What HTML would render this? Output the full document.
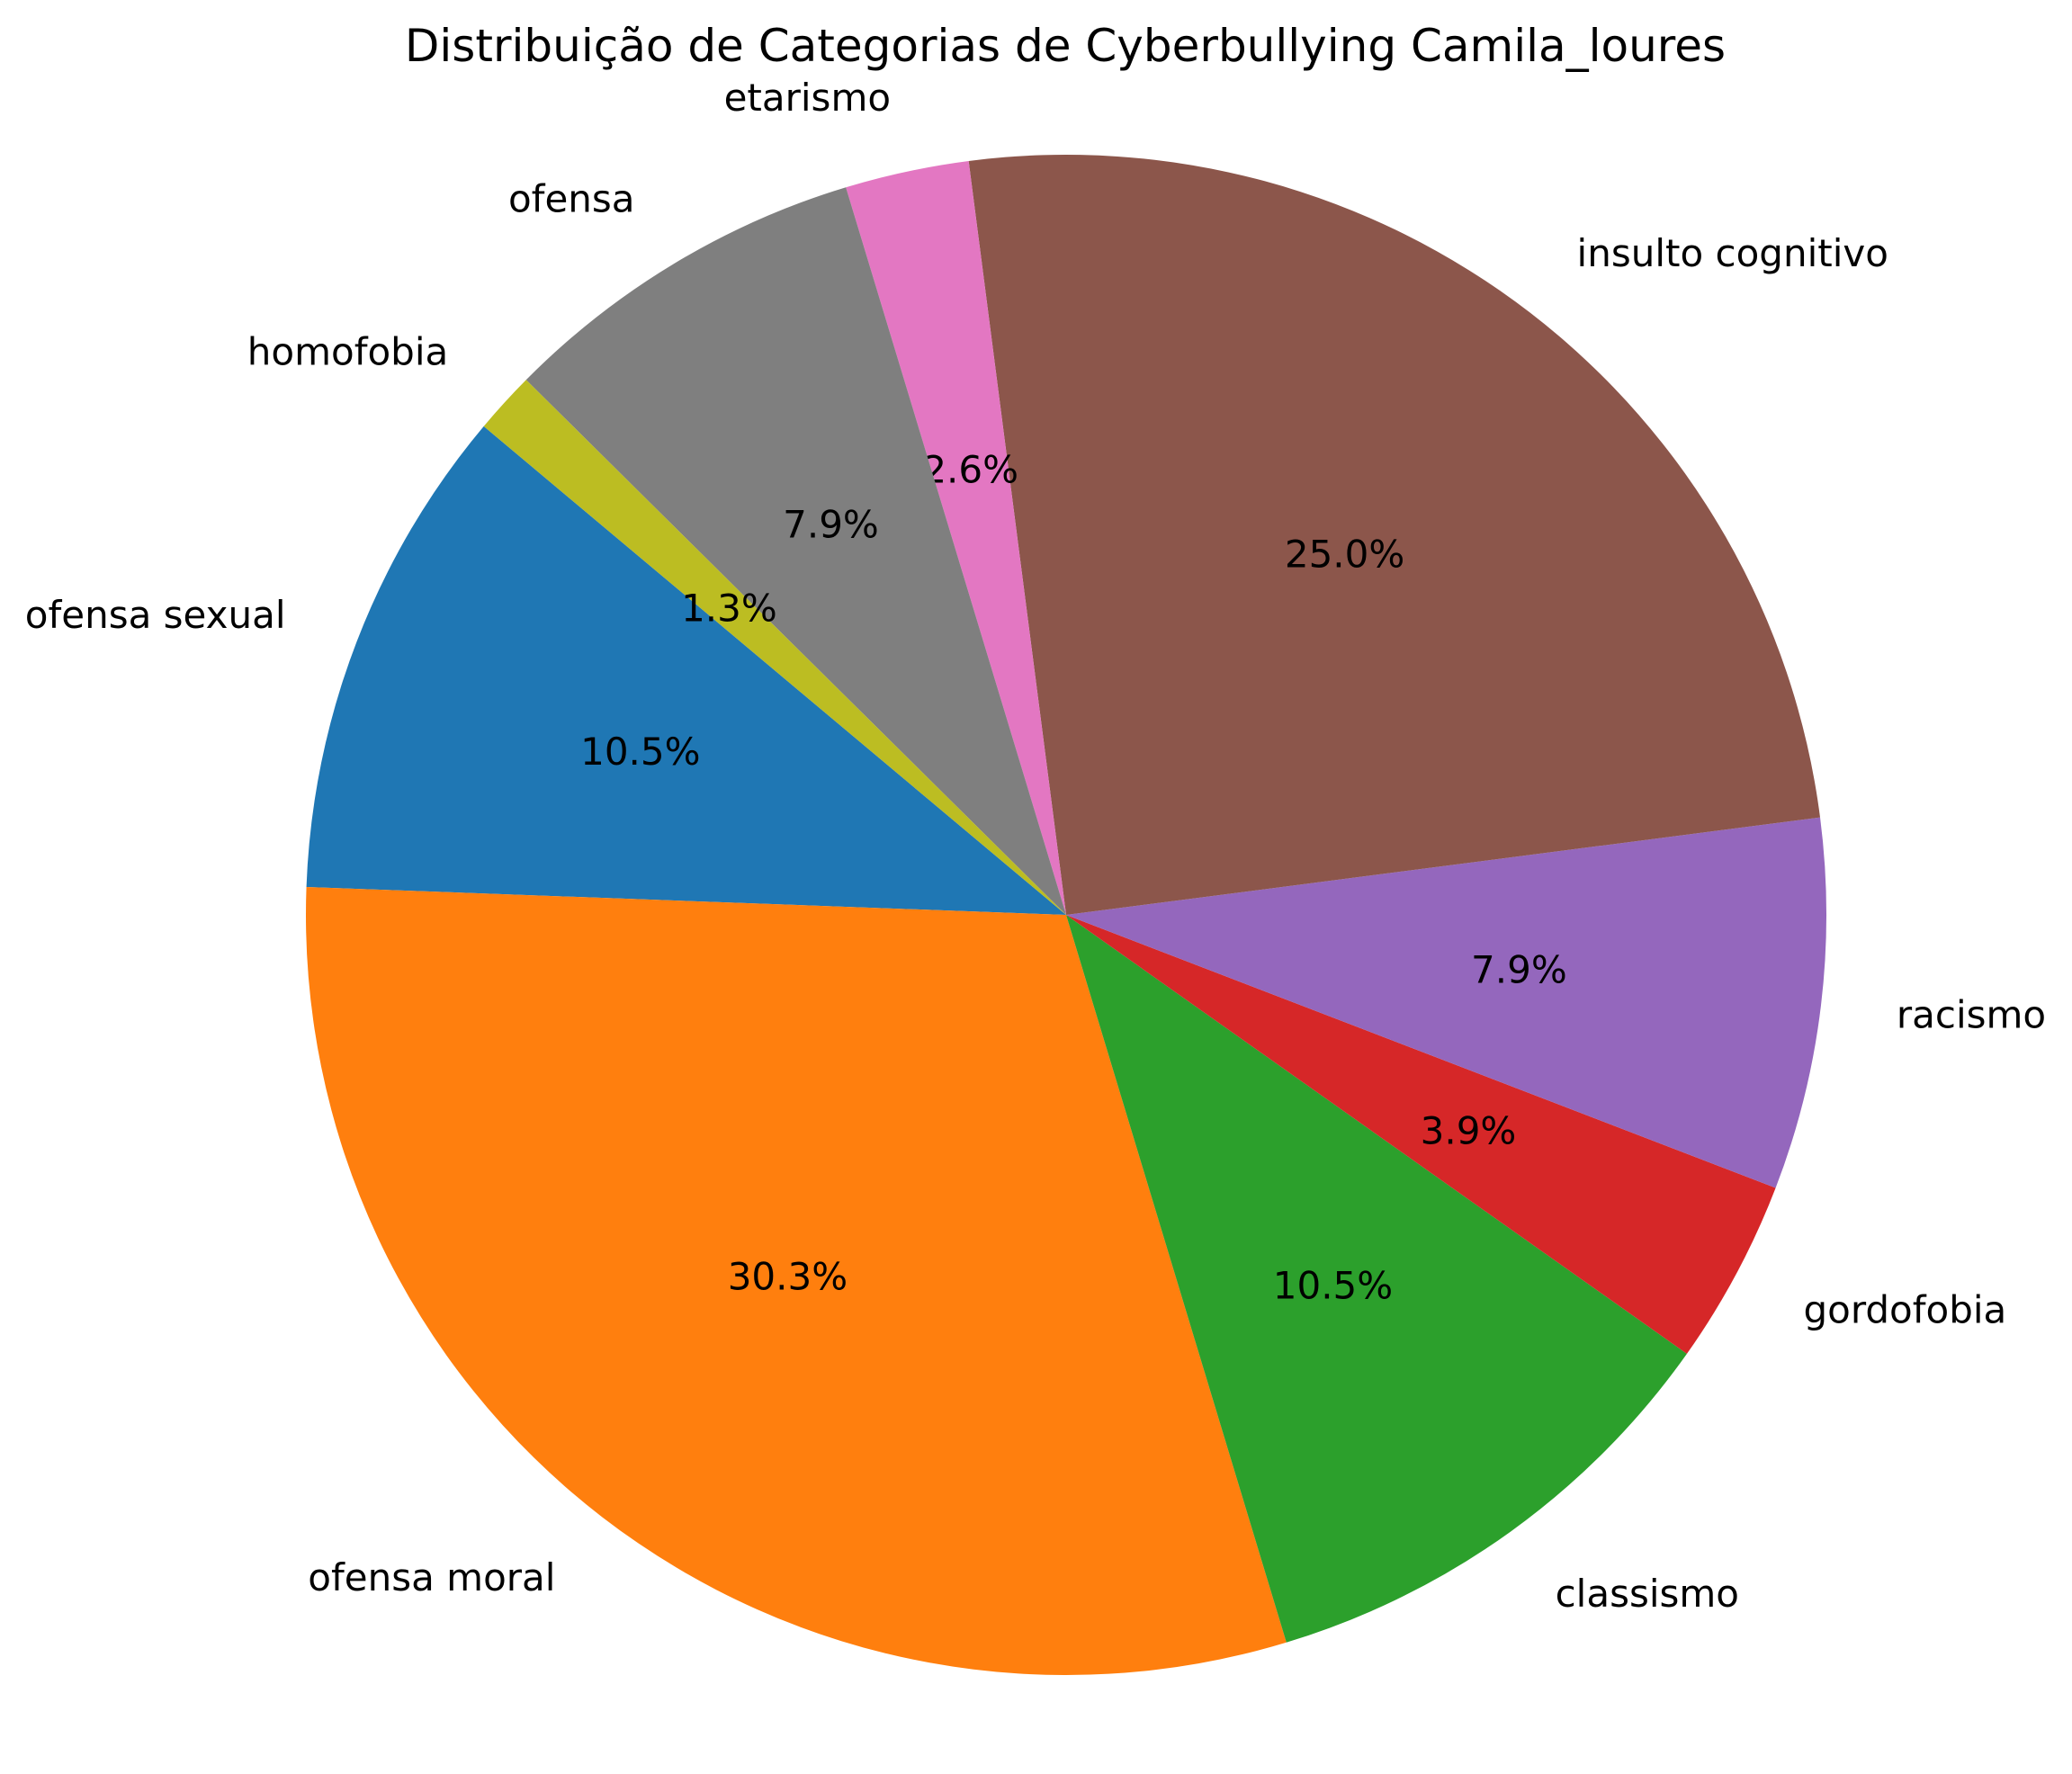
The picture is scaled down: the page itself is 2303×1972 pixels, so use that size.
<!DOCTYPE html>
<html><head><meta charset="utf-8"><style>
html,body{margin:0;padding:0;background:#fff;}
svg{display:block;font-family:"DejaVu Sans","Liberation Sans",sans-serif;}
</style></head><body>
<svg id="chart" width="2303" height="1972" viewBox="0 0 2303 1972" xmlns="http://www.w3.org/2000/svg">
<rect width="2303" height="1972" fill="#fff"/>
<text x="1184" y="68" font-size="50" text-anchor="middle" fill="#000">Distribuição de Categorias de Cyberbullying Camila_loures</text>
<g id="slices"></g>
</svg>
<script>
const categories = ["ofensa sexual","ofensa moral","classismo","gordofobia","racismo","insulto cognitivo","etarismo","ofensa","homofobia"];
const counts = [8,23,8,3,6,19,2,6,1];
const colors = ["#1f77b4","#ff7f0e","#2ca02c","#d62728","#9467bd","#8c564b","#e377c2","#7f7f7f","#bcbd22"];
const cx=1185, cy=1017, R=845, startAngle=140;
const g=document.getElementById('slices');
const NS="http://www.w3.org/2000/svg";
const total=counts.reduce((a,b)=>a+b,0);
let a0=startAngle;
function pt(a,r){const t=a*Math.PI/180;return [cx+r*Math.cos(t), cy-r*Math.sin(t)];}
counts.forEach((v,i)=>{
  const span=v/total*360, a1=a0+span;
  const p0=pt(a0,R), p1=pt(a1,R);
  const path=document.createElementNS(NS,'path');
  path.setAttribute('d',`M${cx},${cy} L${p0[0]},${p0[1]} A${R},${R} 0 ${span>180?1:0} 0 ${p1[0]},${p1[1]} Z`);
  path.setAttribute('fill',colors[i]);
  
  
  g.appendChild(path);
  const mid=(a0+a1)/2;
  const lp=pt(mid,R*1.1);
  const lab=document.createElementNS(NS,'text');
  lab.setAttribute('x',lp[0]);lab.setAttribute('y',lp[1]+15);
  lab.setAttribute('font-size','42');
  lab.setAttribute('text-anchor',Math.cos(mid*Math.PI/180)>=0?'start':'end');
  lab.textContent=categories[i];
  
  
  g.appendChild(lab);
  const pp=pt(mid,R*0.6);
  const pct=document.createElementNS(NS,'text');
  pct.setAttribute('x',pp[0]);pct.setAttribute('y',pp[1]+15);
  pct.setAttribute('font-size','42');
  pct.setAttribute('text-anchor','middle');
  pct.textContent=(v/total*100).toFixed(1)+'%';
  
  
  g.appendChild(pct);
  a0=a1;
});
</script>
</body></html>
